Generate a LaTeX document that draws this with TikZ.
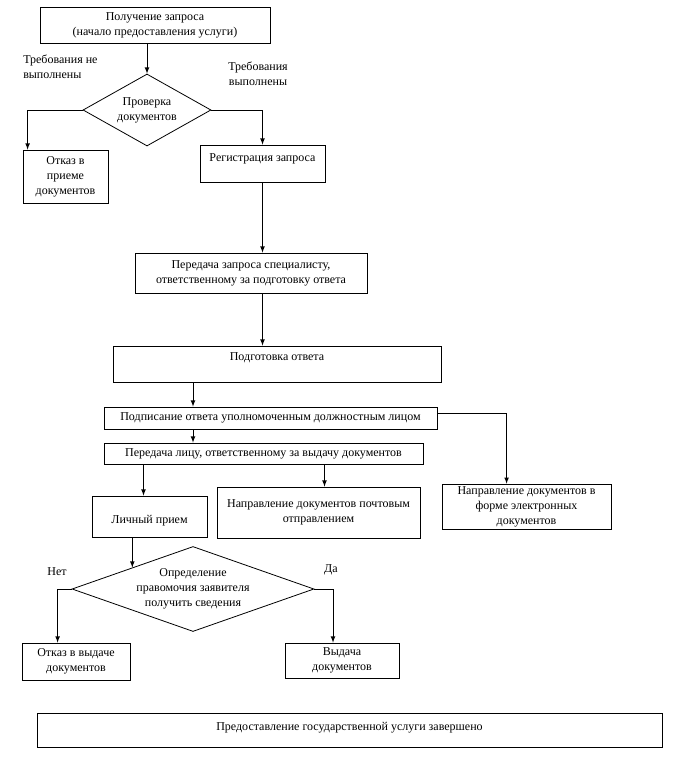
\documentclass[tikz,border=0pt]{standalone}
\usepackage{fontspec}
\setmainfont{Liberation Serif}
\usetikzlibrary{shapes.geometric}

\def\u{0.75pt}

\begin{document}
\begin{tikzpicture}[
    x=0.75pt, y=-0.75pt,
    >=latex,
    every node/.style={font=\fontsize{9pt}{11.25pt}\selectfont},
    box/.style={
        draw, line width=0.6pt,
        align=center, inner sep=2pt
    },
    decision/.style={
        draw, diamond, line width=0.6pt,
        align=center, inner sep=0pt
    },
    answer/.style={align=left, inner sep=0pt},
    flow/.style={->, line width=0.6pt}
]

\useasboundingbox (0,0) rectangle (675,757);

% Eingang und Pruefung
\node[box, minimum width=230*\u, minimum height=36*\u] (start) at (155,25)
    {Получение запроса\\(начало предоставления услуги)};
\node[decision, minimum width=128*\u, minimum height=72*\u, shape aspect=1.8] (check) at (147,110)
    {Проверка\\документов};
\node[answer, anchor=west] (no1) at (23,67) {Требования не\\выполнены};
\node[answer, align=center] (yes1) at (258,74) {Требования\\выполнены};

\node[box, minimum width=85*\u, minimum height=53*\u] (refuse) at (65.5,176.5)
    {Отказ в\\приеме\\документов};
\node[box, minimum width=125*\u, minimum height=37*\u, text height=6.5pt, text depth=10pt] (register) at (262.5,163.5)
    {Регистрация запроса};

% Bearbeitung
\node[box, minimum width=232*\u, minimum height=40*\u] (forward) at (251,273)
    {Передача запроса специалисту,\\ответственному за подготовку ответа};
\node[box, minimum width=328*\u, minimum height=36*\u, text height=6.5pt, text depth=12.5pt] (prepare) at (277,364)
    {Подготовка ответа};
\node[box, minimum width=333*\u, minimum height=22*\u] (sign) at (270.5,418)
    {Подписание ответа уполномоченным должностным лицом};
\node[box, minimum width=319*\u, minimum height=21*\u] (handover) at (263.5,453.5)
    {Передача лицу, ответственному за выдачу документов};

% Ausgabewege
\node[box, minimum width=115*\u, minimum height=41*\u, text height=13pt, text depth=2pt] (personal) at (149.5,516.5)
    {Личный прием};
\node[box, minimum width=203*\u, minimum height=51*\u] (post) at (318.5,512.5)
    {Направление документов почтовым\\отправлением};
\node[box, minimum width=169*\u, minimum height=45*\u] (electronic) at (526.5,507)
    {Направление документов в\\форме электронных\\документов};

% Berechtigung
\node[decision, minimum width=242*\u, minimum height=85*\u, shape aspect=2.8] (rights) at (193,589)
    {Определение\\правомочия заявителя\\получить сведения};
\node[answer] (no2) at (57,572) {Нет};
\node[answer] (yes2) at (331,570) {Да};
\node[box, minimum width=108*\u, minimum height=37*\u] (refuse2) at (76,661.5)
    {Отказ в выдаче\\документов};
\node[box, minimum width=114*\u, minimum height=35*\u] (issue) at (342,660.5)
    {Выдача\\документов};

% Abschluss
\node[box, minimum width=625*\u, minimum height=34*\u, text height=6.5pt, text depth=6.5pt] (finish) at (349.5,730)
    {Предоставление государственной услуги завершено};

% Verbindungen
\draw[flow] (check.north |- start.south) -- (check.north);
\draw[flow] (check.west) -| ([xshift=5*\u]refuse.north west);
\draw[flow] (check.east) -| (register.north);
\draw[flow] (register.south) -- (register.south |- forward.north);
\draw[flow] (register.south |- forward.south) -- (register.south |- prepare.north);
\draw[flow] (rights.north |- prepare.south) -- (rights.north |- sign.north);
\draw[flow] (rights.north |- sign.south) -- (rights.north |- handover.north);
\draw[flow] ([yshift=5*\u]sign.east) -| ([xshift=65*\u]electronic.north west);
\draw[flow] ([xshift=-6*\u]personal.north |- handover.south) -- ([xshift=-6*\u]personal.north);
\draw[flow] ([xshift=6*\u]post.north |- handover.south) -- ([xshift=6*\u]post.north);
\draw[flow] (personal.south -| rights.north west) -- (rights.north west);
\draw[flow] (rights.west) -| ([xshift=36*\u]refuse2.north west);
\draw[flow] (rights.east) -| ([xshift=-9*\u]issue.north);

\end{tikzpicture}
\end{document}
